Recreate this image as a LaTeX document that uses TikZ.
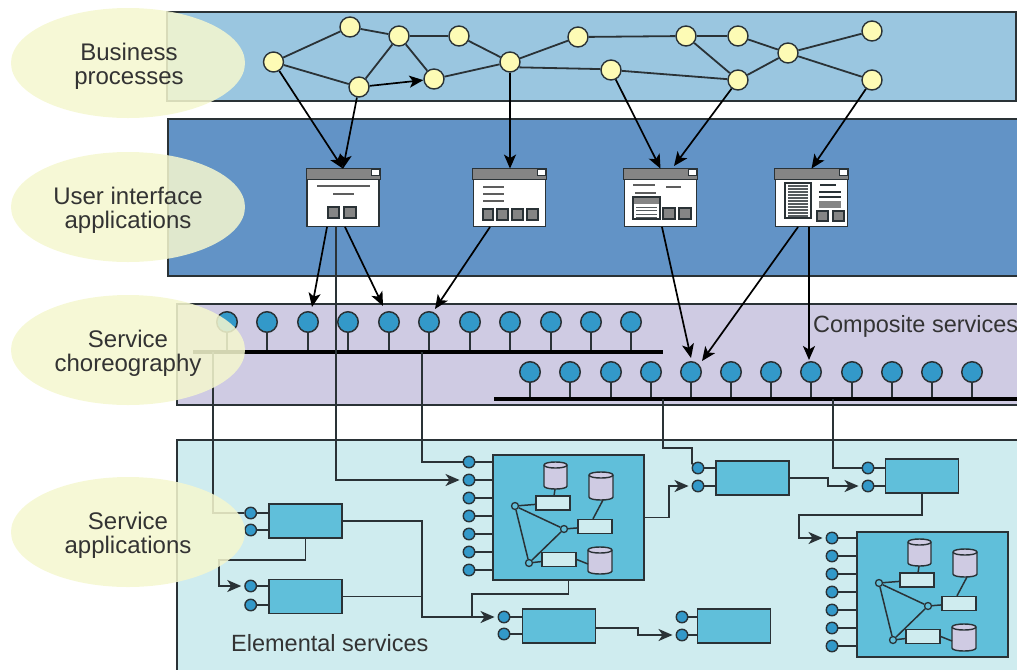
\documentclass[tikz,border=0pt]{standalone}
\usepackage{fontspec}
\setmainfont{Liberation Sans}
\usetikzlibrary{shapes.geometric,arrows.meta,calc}
\definecolor{bandA}{HTML}{9AC6E0}
\definecolor{bandB}{HTML}{6293C6}
\definecolor{bandC}{HTML}{CFCBE3}
\definecolor{bandD}{HTML}{CFECEF}
\definecolor{boxfill}{HTML}{60BFDA}
\definecolor{svcblue}{HTML}{3399C9}
\definecolor{nodeyellow}{HTML}{FDFBB5}
\definecolor{labelfill}{HTML}{F5F7CF}
\definecolor{ink}{HTML}{2A3236}
\definecolor{winbar}{HTML}{858585}
\definecolor{txt}{HTML}{333333}
\tikzset{
  x=1pt,y=-1pt,
  bandline/.style={draw=ink,line width=1.6pt},
  bp/.style={circle,draw=ink,fill=nodeyellow,line width=1.4pt,minimum size=20pt,inner sep=0pt},
  flow/.style={draw=ink,line width=1.8pt},
  flowarrow/.style={draw=black,line width=1.7pt,-{Stealth[length=14pt,width=12pt,inset=3.5pt]}},
  winbox/.style={rectangle,draw=ink,fill=white,line width=1.8pt,minimum width=72pt,minimum height=57pt,inner sep=0pt},
  wbar/.style={fill=winbar,draw=ink,line width=.8pt},
  wbtn/.style={fill=winbar,draw=ink,line width=1.2pt},
  wline/.style={draw=winbar!70!black,line width=1.5pt},
  comp/.style={circle,draw=ink,fill=svcblue,line width=1.5pt,minimum size=20.5pt,inner sep=0pt},
  stem/.style={draw=ink,line width=1.8pt},
  bus/.style={draw=black,line width=3.2pt},
  port/.style={circle,draw=ink,fill=svcblue,line width=1.4pt,minimum size=11.5pt,inner sep=0pt},
  svcbox/.style={rectangle,draw=ink,fill=boxfill,line width=1.7pt,minimum width=73pt,minimum height=34pt,inner sep=0pt},
  bigbox/.style={rectangle,draw=ink,fill=boxfill,line width=1.7pt,minimum width=151pt,minimum height=125pt,inner sep=0pt},
  wire/.style={draw=ink,line width=1.9pt},
  wirearrow/.style={draw=ink,line width=1.9pt,shorten >=3pt,-{Stealth[length=14pt,width=12pt,inset=4pt]}},
  innerrect/.style={rectangle,draw=ink,fill=bandD,line width=1.4pt,minimum width=34pt,minimum height=14pt,inner sep=0pt},
  joint/.style={circle,draw=ink,fill=boxfill,line width=1.3pt,minimum size=7pt,inner sep=0pt},
  inner/.style={draw=ink,line width=1.5pt},
  layerlabel/.style={ellipse,fill=labelfill,fill opacity=.86,minimum width=234pt,minimum height=110pt,inner sep=0pt},
  layertext/.style={inner sep=0pt,text=txt,align=center,font=\fontsize{24}{24}\selectfont},
  plainlabel/.style={inner sep=0pt,text=txt,font=\fontsize{23.5}{24}\selectfont},
}
% cylinder: left, right, top, bottom
\newcommand{\drumshape}[4]{%
  \path[draw=ink,fill=bandC,line width=1.4pt] (#1,#3+3) -- (#1,#4-3) .. controls (#1,#4+1) and (#2,#4+1) .. (#2,#4-3) -- (#2,#3+3) .. controls (#2,#3-1) and (#1,#3-1) .. (#1,#3+3) -- cycle;
  \path[draw=ink,line width=1.4pt] (#1,#3+3) .. controls (#1,#3+7) and (#2,#3+7) .. (#2,#3+3);
}
% composite inner workflow, drawn at the position of the first big box, shifted
\newcommand{\bigservice}[3]{%
  \begin{scope}[shift={(#2,#3)}]
    \drumshape{544}{567}{462}{489}
    \drumshape{589}{613}{472}{500}
    \drumshape{588}{612}{547}{574}
    \node[innerrect] (#1r1) at (553,503) {};
    \node[innerrect] (#1r2) at (595,526.5) {};
    \node[innerrect] (#1r3) at (559,559.5) {};
    \node[joint] (#1t1) at (515,506) {};
    \node[joint] (#1t2) at (564,529) {};
    \node[joint] (#1t3) at (529,563) {};
    \coordinate (#1c1) at (555,489);
    \coordinate (#1c2) at (603,500);
    \coordinate (#1c3) at (588,564);
    \draw[inner] (#1t1) -- (#1t2);
    \draw[inner] (#1t2) -- (#1t3);
    \draw[inner] (#1t3) -- (#1t1);
    \draw[inner] (#1t1) -- (#1r1);
    \draw[inner] (#1t2) -- (#1r2);
    \draw[inner] (#1t3) -- (#1r3);
    \draw[inner] (#1r1) -- (#1c1);
    \draw[inner] (#1r2.north) ++(-2,0) -- (#1c2);
    \draw[inner] (#1r3.east) -- (#1c3);
  \end{scope}
}
\begin{document}
\begin{tikzpicture}
\useasboundingbox (0,0) rectangle (1017,670);
% bands
\path[fill=bandA,bandline] (167,12) rectangle (1016,101);
\fill[bandB] (168,119) rectangle (1017,276);
\draw[bandline] (1017,119) -- (168,119) -- (168,276) -- (1017,276);
\fill[bandC] (177,304) rectangle (1017,405);
\draw[bandline] (1017,304) -- (177,304) -- (177,405) -- (1017,405);
\fill[bandD] (177,440) rectangle (1017,670);
\draw[bandline] (1017,440) -- (177,440) -- (177,670);

% business process nodes
\node[bp] (n1) at (273.5,62) {};
\node[bp] (n2) at (350,27) {};
\node[bp] (n3) at (399,36) {};
\node[bp] (n4) at (459,36) {};
\node[bp] (n5) at (359,87) {};
\node[bp] (n6) at (434,79) {};
\node[bp] (n7) at (510,62) {};
\node[bp] (n8) at (578,37) {};
\node[bp] (n9) at (686,36) {};
\node[bp] (n10) at (738,36) {};
\node[bp] (n11) at (611,70) {};
\node[bp] (n12) at (738,80) {};
\node[bp] (n13) at (788,53) {};
\node[bp] (n14) at (872,31) {};
\node[bp] (n15) at (872,80) {};
\foreach \a/\b in {n1/n2,n2/n3,n3/n4,n4/n7,n1/n5,n5/n3,n3/n6,n6/n7,n7/n8,n8/n9,n9/n10,n9/n12,n11/n12,n12/n13,n10/n13,n13/n14,n13/n15}
  \draw[flow] (\a) -- (\b);
\draw[flow] (n7.-30) -- (n11.175);
\draw[flowarrow] (n5) -- (n6);

% windows
\node[winbox] (w1) at (343,198) {};
\node[winbox] (w2) at (509.5,198) {};
\node[winbox] (w3) at (660.5,198) {};
\node[winbox] (w4) at (811.5,198) {};
\foreach \w in {w1,w2,w3,w4} {
  \path[wbar] (\w.north west) rectangle ($(\w.north east)+(0,11)$);
  \path[fill=white,draw=ink,line width=.8pt] ($(\w.north east)+(-9,1)$) rectangle ($(\w.north east)+(-1,7)$);
}
% window 1 content
\draw[wline] (317,186) -- (370,186);
\draw[wline] (333,194) -- (354,194);
\path[wbtn] (328,207) rectangle (339,218);
\path[wbtn] (344,207) rectangle (356,218);
% window 2 content
\foreach \yy in {187,194,201} \draw[wline] (483,\yy) -- (504,\yy);
\foreach \xa/\xb in {483/493,497/508,512/523,527/538} \path[wbtn] (\xa,209) rectangle (\xb,220);
% window 3 content
\draw[wline] (633,185) -- (655,185);
\draw[wline] (666,187) -- (681,187);
\draw[wline] (635,193) -- (656,193);
\path[fill=white,draw=ink,line width=1.2pt] (633,197) rectangle (660,219);
\fill[winbar] (634,198) rectangle (659,204);
\foreach \yy in {207,210.5,214,217} \draw[draw=ink!80,line width=.9pt] (636,\yy) -- (657,\yy);
\path[wbtn] (663,208) rectangle (675,219);
\path[wbtn] (679,208) rectangle (691,219);
% window 4 content
\path[fill=white,draw=ink,line width=1.2pt] (785,183) rectangle (811,218);
\foreach \yy in {186,189,192,195,198,201,204,207,210,213,216} \draw[draw=ink!80,line width=1.2pt] (788,\yy) -- (808,\yy);
\draw[draw=ink,line width=1.2pt] (820,185) -- (836,185);
\draw[draw=ink,line width=1.2pt] (819,192) -- (841,192);
\draw[draw=ink,line width=1.2pt] (819,197) -- (841,197);
\fill[winbar] (819,201) rectangle (841,208);
\path[wbtn] (817,211) rectangle (828,221);
\path[wbtn] (833,211) rectangle (844,221);

% composite services
\coordinate (barAl) at (193,352);
\coordinate (barAr) at (663,352);
\coordinate (barBl) at (494,399);
\coordinate (barBr) at (1017,399);
\foreach \i/\xx in {1/227,2/267,3/308,4/348,5/389,6/429,7/470,8/510,9/551,10/591,11/631} {
  \node[comp] (a\i) at (\xx,322) {};
  \draw[stem] (a\i) -- (a\i |- barAl);
}
\foreach \i/\xx in {1/530,2/570,3/611,4/651,5/691,6/731,7/771,8/811,9/852,10/892,11/932,12/972} {
  \node[comp] (b\i) at (\xx,372) {};
  \draw[stem] (b\i) -- (b\i |- barBl);
}
\draw[bus] (barAl) -- (barAr);
\draw[bus] (barBl) -- (barBr);
\node[plainlabel,anchor=west] (complab) at (813,326) {Composite services};

% arrows to windows
\coordinate (w3b) at (674,166);
\draw[flowarrow] (n1) -- (w1.north);
\draw[flowarrow] (n5) -- (w1.north);
\draw[flowarrow] (n7) -- (n7 |- w2.north);
\draw[flowarrow] (n11) -- (w3.north);
\draw[flowarrow] (n12) -- (w3b);
\draw[flowarrow] (n15) -- (w4.north);

% service boxes
\node[svcbox] (sa) at (305.5,521) {};
\node[svcbox] (sb) at (305.5,596.5) {};
\node[svcbox] (sc) at (752.5,478) {};
\node[svcbox] (sd) at (559,626) {};
\node[svcbox] (se) at (734,626) {};
\node[svcbox] (sf) at (922,476) {};
\node[bigbox] (bg) at (568.5,517.5) {};
\node[bigbox] (bh) at (932.5,594.5) {};
\bigservice{x}{0}{0}
\bigservice{y}{364}{77}

% ports
\foreach \nm/\px/\py/\bx in {pa1/250.7/513/sa,pa2/250.7/530/sa,pb1/250.7/586/sb,pb2/250.7/605/sb,pc1/698/468/sc,pc2/698/486/sc,pd1/504/617/sd,pd2/504/634/sd,pe1/682/617/se,pe2/682/635/se,pf1/868/468/sf,pf2/868/486/sf} {
  \node[port] (\nm) at (\px,\py) {};
  \draw[stem] (\nm) -- (\nm -| \bx.west);
}
\foreach \i/\py in {1/462,2/480,3/498,4/516,5/534,6/552,7/570} {
  \node[port] (pg\i) at (469,\py) {};
  \draw[stem] (pg\i) -- (pg\i -| bg.west);
}
\foreach \i/\py in {1/538,2/556,3/574,4/592,5/610,6/628,7/646} {
  \node[port] (ph\i) at (832,\py) {};
  \draw[stem] (ph\i) -- (ph\i -| bh.west);
}

% windows to composite services
\coordinate (u1) at (327,227);
\coordinate (u2) at (345,227);
\coordinate (u3) at (490,227);
\coordinate (u4) at (662,227);
\coordinate (u5) at (798,227);
\coordinate (u6) at (809,227);
\coordinate (v1) at (312,307);
\coordinate (v2) at (383,306);
\coordinate (v3) at (435,309);
\coordinate (v4) at (691,358);
\coordinate (v5) at (702,361);
\coordinate (v6) at (809,360);
\draw[flowarrow] (u1) -- (v1);
\draw[flowarrow] (u2) -- (v2);
\draw[flowarrow] (u3) -- (v3);
\draw[flowarrow] (u4) -- (v4);
\draw[flowarrow] (u5) -- (v5);
\draw[flowarrow] (u6) -- (v6);

% wires
\coordinate (j1) at (213,352);
\coordinate (j2) at (422,352);
\coordinate (j3) at (663,399);
\coordinate (j4) at (833,399);
\coordinate (j5) at (336,227);
\coordinate (k1) at (219,560);
\coordinate (k2) at (422,521);
\coordinate (k3) at (472,594);
\coordinate (k4) at (472,617);
\coordinate (k5) at (669,517);
\coordinate (k6) at (638,628);
\coordinate (k7) at (828,478);
\coordinate (k8) at (799,515);
\coordinate (k9) at (692,448);
\draw[wire] (j1) |- (pa1);
\draw[wire] (j2) |- (pg1);
\draw[wirearrow] (j5) |- (pg2.west);
\draw[wire] (j3) |- (k9) -- (k9 |- pc1.north west) -- (pc1);
\draw[wire] (j4) |- (pf1);
\draw[wirearrow] (sa.south) |- (k1) |- (pb1.west);
\draw[wirearrow] (sa.east) -| (k2) |- (pd1.west);
\draw[wire] (sb.east) -| (k2);
\draw[wire] (bg.south) |- (k3) -- (k4);
\draw[wirearrow] (bg.east) -| (k5) |- (pc2.west);
\draw[wirearrow] (sd.east) ++(0,2) -| (k6) |- (pe2.west);
\draw[wirearrow] (sc.east) -| (k7) |- (pf2.west);
\draw[wirearrow] (sf.south) |- (k8) |- (ph1.west);

\node[plainlabel,anchor=west] (elab) at (231,643) {Elemental services};

% layer labels
\node[layerlabel] (l1) at (128,63) {};
\node[layerlabel] (l2) at (128,207) {};
\node[layerlabel] (l3) at (128,350) {};
\node[layerlabel] (l4) at (128,532) {};
\node[layertext] (t1) at (129,66) {Business\\processes};
\node[layertext] (t2) at (128,210) {User interface\\applications};
\node[layertext] (t3) at (128,353) {Service\\choreography};
\node[layertext] (t4) at (128,535) {Service\\applications};
\end{tikzpicture}
\end{document}
